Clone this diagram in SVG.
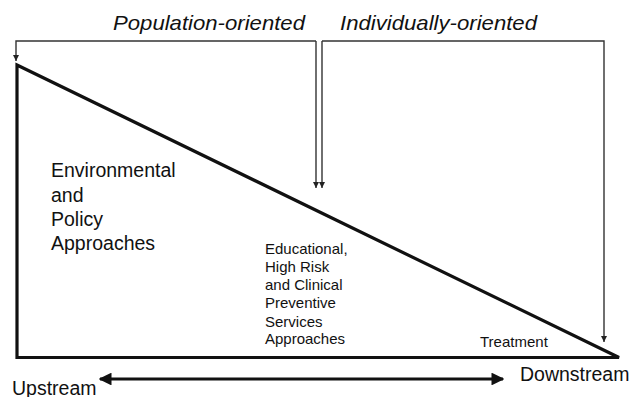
<svg xmlns="http://www.w3.org/2000/svg" width="633" height="397" viewBox="0 0 633 397">
<defs>
<marker id="ah" viewBox="0 0 10 10" refX="10" refY="5" markerWidth="6" markerHeight="6" markerUnits="userSpaceOnUse" orient="auto"><path d="M0,0 L10,5 L0,10 z" fill="#222"/></marker>
<marker id="ahb" viewBox="0 0 10 10" refX="9" refY="5" markerWidth="4" markerHeight="4" orient="auto-start-reverse"><path d="M0,0 L10,5 L0,10 z" fill="#111"/></marker>
<style>
text{font-family:"Liberation Sans",Arial,sans-serif;fill:#111}
.it{font-style:italic;font-size:21px}
.big{font-size:19.5px}
.sm{font-size:15px}
.thin{fill:none;stroke:#333;stroke-width:1.4}
.thick{fill:none;stroke:#111;stroke-width:3.2}
</style>
</defs>
<rect width="633" height="397" fill="#fff"/>
<g id="connectors">
<path class="thin" d="M316,41 H16 V61" marker-end="url(#ah)"/>
<path class="thin" d="M316,41 V188" marker-end="url(#ah)"/>
<path class="thin" d="M322,41 H604 V342" marker-end="url(#ah)"/>
<path class="thin" d="M322,41 V188" marker-end="url(#ah)"/>
<path class="thick" d="M100,379 H503" marker-start="url(#ahb)" marker-end="url(#ahb)"/>
</g>
<g id="triangle">
<path class="thick" d="M17,65 L619,357.5 H17 Z" stroke-linejoin="miter"/>
</g>
<g id="population-oriented"><text class="it" x="113" y="30" textLength="192" lengthAdjust="spacingAndGlyphs">Population-oriented</text></g>
<g id="individually-oriented"><text class="it" x="340" y="30" textLength="197" lengthAdjust="spacingAndGlyphs">Individually-oriented</text></g>
<g id="environmental">
<text class="big" x="51" y="177">Environmental</text>
<text class="big" x="51" y="201.5">and</text>
<text class="big" x="51" y="225.5">Policy</text>
<text class="big" x="51" y="249.5">Approaches</text>
</g>
<g id="educational">
<text class="sm" x="265" y="254">Educational,</text>
<text class="sm" x="265" y="272">High Risk</text>
<text class="sm" x="265" y="290">and Clinical</text>
<text class="sm" x="265" y="308">Preventive</text>
<text class="sm" x="265" y="326.5">Services</text>
<text class="sm" x="265" y="344">Approaches</text>
</g>
<g id="treatment"><text class="sm" x="480" y="347">Treatment</text></g>
<g id="upstream"><text class="big" x="12" y="394.5">Upstream</text></g>
<g id="downstream"><text class="big" x="520" y="381">Downstream</text></g>
</svg>
